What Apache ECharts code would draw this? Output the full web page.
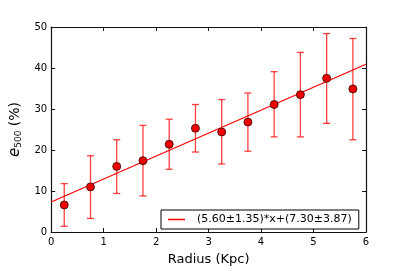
<!DOCTYPE html>
<html>
<head>
<meta charset="utf-8">
<script src="https://cdn.jsdelivr.net/npm/echarts@6/dist/echarts.min.js"></script>
<style>html,body{margin:0;padding:0;background:#fff;}#c{width:407px;height:271px;}</style>
</head>
<body>
<div id="c"></div>
<script>
var radius = [0.25, 0.75, 1.25, 1.75, 2.25, 2.75, 3.25, 3.75, 4.25, 4.75, 5.25, 5.75];
var e500   = [6.6, 11.0, 16.0, 17.4, 21.4, 25.3, 24.4, 26.8, 31.1, 33.5, 37.5, 34.9];
var errLow = [1.4, 3.3, 9.4, 8.8, 15.3, 19.5, 16.6, 19.7, 23.2, 23.2, 26.5, 22.5];
var errHigh= [11.8, 18.6, 22.5, 26.0, 27.5, 31.1, 32.3, 33.9, 39.1, 43.8, 48.4, 47.2];
var fitX = [0, 6];
var fitY = [7.30, 40.90];
var fitLabel = '(5.60\u00b11.35)*x+(7.30\u00b13.87)';
var xTicks = [0, 1, 2, 3, 4, 5, 6];
var yTicks = [0, 10, 20, 30, 40, 50];

var FONT = 'DejaVu Sans';
var points = radius.map(function (x, i) { return [x, e500[i]]; });
var errs = radius.map(function (x, i) { return [x, errLow[i], errHigh[i]]; });
var fit = fitX.map(function (x, i) { return [x, fitY[i]]; });

var chart = echarts.init(document.getElementById('c'), null, {renderer: 'canvas'});
function axisBase(extra) {
  var a = {
    type: 'value',
    axisLine: {show: true, onZero: false, lineStyle: {color: '#111', width: 1.2}},
    axisTick: {show: true, inside: true, length: 4, lineStyle: {color: '#111', width: 1}},
    splitLine: {show: false},
    axisLabel: {show: true, color: '#000', fontFamily: FONT, fontSize: 10}
  };
  for (var k in extra) a[k] = extra[k];
  return a;
}
var option = {
  animation: false,
  backgroundColor: '#fff',
  grid: {left: 51, top: 27, right: 41, bottom: 34, containLabel: false},
  xAxis: [
    axisBase({min: xTicks[0], max: xTicks[xTicks.length - 1], interval: 1, position: 'bottom',
      name: 'Radius (Kpc)', nameLocation: 'middle', nameGap: 21,
      nameTextStyle: {fontFamily: FONT, fontSize: 13, color: '#000'},
      axisLabel: {show: true, color: '#000', fontFamily: FONT, fontSize: 10, margin: 5}}),
    axisBase({min: xTicks[0], max: xTicks[xTicks.length - 1], interval: 1, position: 'top',
      axisLabel: {show: false}})
  ],
  yAxis: [
    axisBase({min: yTicks[0], max: yTicks[yTicks.length - 1], interval: 10, position: 'left',
      name: '{e|e}{s|500} (%)', nameLocation: 'middle', nameGap: 17, nameRotate: 90,
      nameTextStyle: {fontFamily: FONT, fontSize: 14, color: '#000',
        rich: {
          e: {fontFamily: FONT, fontStyle: 'italic', fontSize: 15, color: '#000'},
          s: {fontFamily: FONT, fontSize: 9, color: '#000', padding: [7, 0, 0, 0]}
        }},
      axisLabel: {show: true, color: '#000', fontFamily: FONT, fontSize: 10, margin: 4}}),
    axisBase({min: yTicks[0], max: yTicks[yTicks.length - 1], interval: 10, position: 'right',
      axisLabel: {show: false}})
  ],
  legend: {
    show: true,
    left: 161, top: 210,
    padding: [4, 7, 4, 7],
    borderColor: '#000', borderWidth: 1,
    backgroundColor: '#fff',
    itemWidth: 17, itemHeight: 1.5,
    data: [{name: fitLabel, icon: 'rect'}],
    textStyle: {fontFamily: FONT, fontSize: 11, color: '#000', padding: [0, 0, 0, 7]}
  },
  series: [
    {
      name: fitLabel, type: 'line', data: fit, symbol: 'none',
      lineStyle: {color: '#ff0000', width: 1.2}, itemStyle: {color: '#ff0000'},
      z: 2, silent: true
    },
    {
      name: 'err', type: 'custom', data: errs, z: 3,
      renderItem: function (params, api) {
        var x = api.value(0);
        var lo = api.coord([x, api.value(1)]);
        var hi = api.coord([x, api.value(2)]);
        var hw = 3.5;
        var st = {stroke: 'rgba(255,0,0,0.75)', lineWidth: 1.3};
        return {type: 'group', children: [
          {type: 'line', shape: {x1: lo[0], y1: lo[1], x2: hi[0], y2: hi[1]}, style: st},
          {type: 'line', shape: {x1: lo[0] - hw, y1: lo[1], x2: lo[0] + hw, y2: lo[1]}, style: st},
          {type: 'line', shape: {x1: hi[0] - hw, y1: hi[1], x2: hi[0] + hw, y2: hi[1]}, style: st}
        ]};
      },
      encode: {x: 0, y: [1, 2]}
    },
    {
      name: 'points', type: 'scatter', data: points, symbol: 'circle', symbolSize: 8,
      itemStyle: {color: '#ee0000', borderColor: '#300000', borderWidth: 0.8, opacity: 1},
      z: 4
    }
  ]
};
chart.setOption(option);
</script>
</body>
</html>
